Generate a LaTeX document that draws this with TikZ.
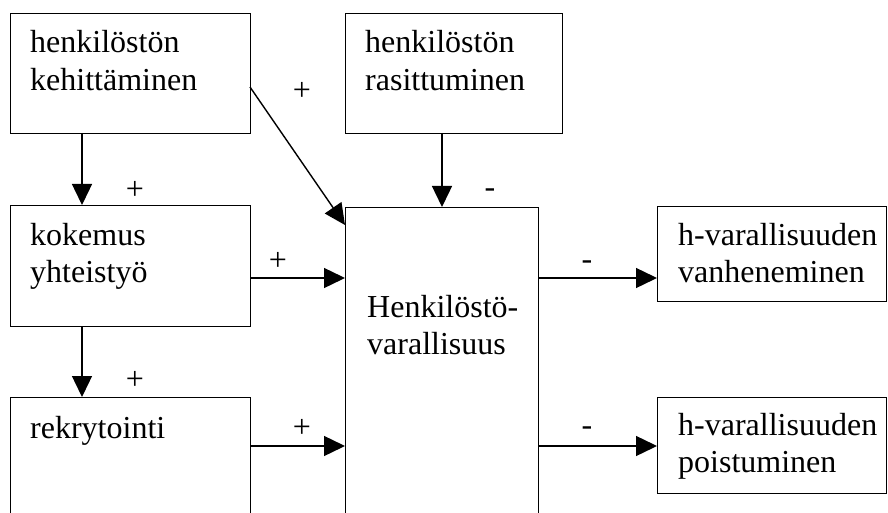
\documentclass[tikz,border=0pt]{standalone}
\usepackage{fontspec}
\setmainfont{Liberation Serif}
\usetikzlibrary{arrows.meta}
\tikzset{
  box/.style={draw=black, line width=1.4pt, inner sep=0pt},
  txt/.style={inner sep=0pt, anchor=base west, font=\fontsize{32}{37.5}\selectfont},
  sign/.style={inner sep=0pt, anchor=base, font=\fontsize{32}{37.5}\selectfont},
  conn/.style={line width=1.4pt, -{Triangle[length=21pt, width=20pt]}},
}
\newcommand{\boxat}[5]{% name, x1, y1, x2, y2 (pixel coords, y down)
  \node[box, anchor=north west, minimum width=#4pt-#2pt, minimum height=#5pt-#3pt] (#1) at (#2pt,-#3pt) {};}
\begin{document}
\begin{tikzpicture}
\useasboundingbox (0,0) rectangle (888pt,-513pt);
\clip (0,0) rectangle (888pt,-513pt);
% boxes
\boxat{A}{10}{13}{250}{133}
\boxat{B}{345}{13}{562}{133}
\boxat{C}{10}{205}{250}{326}
\boxat{D}{10}{397}{250}{530}
\boxat{H}{345}{207}{538}{530}
\boxat{E}{657}{206}{886}{301}
\boxat{F}{657}{397}{886}{493}
% texts
\node[txt] (tA) at (30pt,-53pt) {\begin{tabular}[t]{@{}l@{}}henkilöstön\\kehittäminen\end{tabular}};
\node[txt] (tB) at (365pt,-53pt) {\begin{tabular}[t]{@{}l@{}}henkilöstön\\rasittuminen\end{tabular}};
\node[txt] (tC) at (30pt,-245pt) {\begin{tabular}[t]{@{}l@{}}kokemus\\yhteistyö\end{tabular}};
\node[txt] (tD) at (30pt,-438pt) {rekrytointi};
\node[txt] (tH) at (367pt,-317pt) {\begin{tabular}[t]{@{}l@{}}Henkilöstö-\\varallisuus\end{tabular}};
\node[txt] (tE) at (678pt,-245pt) {\begin{tabular}[t]{@{}l@{}}h-varallisuuden\\vanheneminen\end{tabular}};
\node[txt] (tF) at (678pt,-435pt) {\begin{tabular}[t]{@{}l@{}}h-varallisuuden\\poistuminen\end{tabular}};
% connector end points
\coordinate (a1) at (82pt,-133pt);
\coordinate (c0) at (82pt,-205pt);
\coordinate (c1) at (82pt,-326pt);
\coordinate (d0) at (82pt,-397pt);
\coordinate (b1) at (442pt,-133pt);
\coordinate (h0) at (442pt,-207pt);
\coordinate (a2) at (250pt,-87pt);
\coordinate (h1) at (345pt,-225pt);
% connectors
\draw[conn] (a1) -- (c0);
\draw[conn] (c1) -- (d0);
\draw[conn] (b1) -- (h0);
\draw[conn] (a2) -- (h1);
\draw[conn] (C.east |- 0,-278pt) -- (H.west |- 0,-278pt);
\draw[conn] (D.east |- 0,-446pt) -- (H.west |- 0,-446pt);
\draw[conn] (H.east |- 0,-278pt) -- (E.west |- 0,-278pt);
\draw[conn] (H.east |- 0,-446pt) -- (F.west |- 0,-446pt);
% signs
\node[sign] (s1) at (135pt,-200pt) {+};
\node[sign] (s2) at (490pt,-197pt) {-};
\node[sign] (s3) at (302pt,-101pt) {+};
\node[sign] (s4) at (278pt,-270pt) {+};
\node[sign] (s5) at (135pt,-389pt) {+};
\node[sign] (s6) at (302pt,-437pt) {+};
\node[sign] (s7) at (587pt,-269pt) {-};
\node[sign] (s8) at (587pt,-435pt) {-};
\end{tikzpicture}
\end{document}
